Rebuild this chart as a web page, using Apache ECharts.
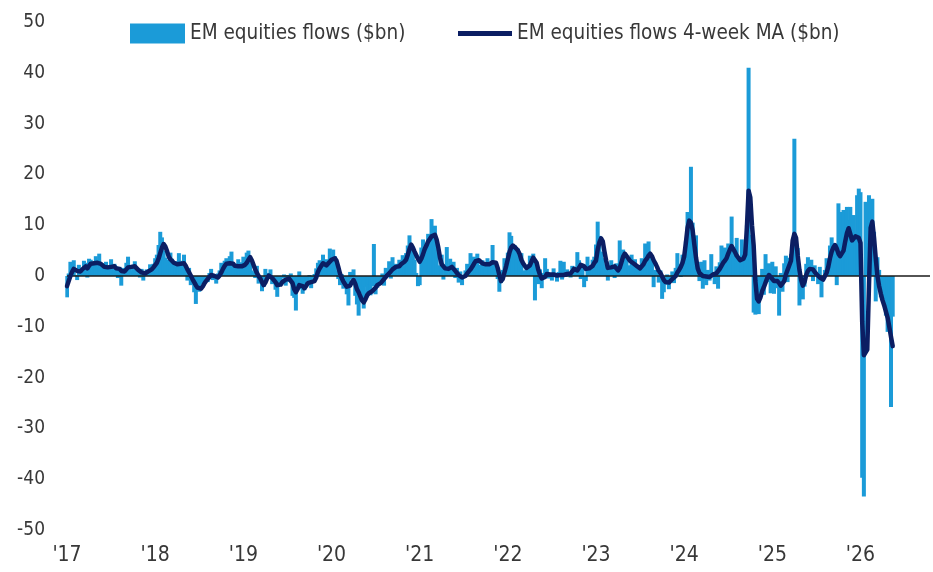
<!DOCTYPE html>
<html>
<head>
<meta charset="utf-8">
<title>EM equities flows</title>
<script src="https://cdn.jsdelivr.net/npm/echarts@6/dist/echarts.min.js"></script>
<style>
html, body { margin: 0; padding: 0; background: #fff; }
#chart { width: 933px; height: 572px; }
</style>
</head>
<body>
<div id="chart"></div>
<script>
// weekly EM equity flows ($bn), one array per year, 52 weeks each
var flows2017 = [
    -4.2, 0.5, 2.8, 1.6, 3.1, 0.2, -0.8, 2.2, 1.5, 0.4,
    3.0, 2.6, -0.3, 3.4, 3.2, 2.1, 2.7, 3.9, 1.8, 4.4,
    1.2, 2.5, 0.9, 2.8, 2.1, 1.3, 3.3, 0.6, 2.4, 1.9,
    -0.4, 1.8, -1.9, 1.6, 0.8, 2.6, 3.8, 2.0, 0.9, 2.2,
    2.9, 0.5, 1.1, -0.3, 1.4, -0.9, 0.6, 1.3, 0.2, 2.3,
    1.9, 2.4];
var flows2018 = [
    3.5, 4.2, 6.1, 8.7, 7.6, 5.0, 3.6, 3.2, 2.1, 4.6,
    3.4, 1.8, 2.9, 1.7, 4.5, 3.0, 2.0, 4.2, 0.8, -0.9,
    1.6, -1.8, -0.6, -3.2, -5.5, -2.4, -3.1, -1.3, -1.6, -0.2,
    -0.9, -1.2, 0.6, 1.4, -0.8, 0.3, -1.5, 0.5, 1.1, 2.6,
    1.7, 3.0, 3.5, 0.7, 3.9, 4.8, 1.2, 2.1, 1.8, 3.3,
    1.0, 2.7];
var flows2019 = [
    3.8, 1.2, 4.6, 5.0, 2.7, 1.1, 0.8, -0.4, 2.0, -1.5,
    -0.9, -3.0, -2.1, 1.4, 0.6, -0.2, 1.3, -1.6, -0.5, -2.7,
    -4.1, -1.5, -0.8, -0.4, 0.3, -1.9, 0.2, -1.2, 0.5, -3.9,
    -4.3, -6.8, -1.7, 0.9, -2.6, -3.5, -2.8, -0.6, -1.1, 0.2,
    -2.4, -0.9, 0.4, 1.5, 2.6, 3.1, 1.2, 4.2, 1.9, 3.3,
    1.4, 5.4];
var flows2020 = [
    2.1, 5.2, 3.9, 1.0, -0.6, -1.8, 0.4, -2.5, -1.4, -3.6,
    -5.8, 0.8, -0.7, 1.3, -3.9, -5.6, -7.8, -2.9, -3.5, -6.4,
    -2.1, -4.2, -1.6, -3.8, -2.0, 6.3, -3.6, -2.3, -0.8, -1.1,
    0.5, -1.9, 1.6, 0.7, 2.9, -0.5, 3.7, 1.9, 2.4, 0.3,
    3.2, 2.6, 4.1, 1.9, 4.5, 6.0, 8.0, 6.3, 4.4, 3.2,
    0.6, -2.0];
var flows2021 = [
    -1.8, 5.6, 7.2, 6.3, 5.0, 8.3, 7.1, 11.2, 6.8, 9.9,
    4.6, 2.1, 1.4, 4.2, -0.7, 2.3, 5.7, 0.5, 3.4, 1.1,
    2.8, -0.4, 1.6, -1.3, 0.9, -1.8, 0.2, 1.1, 2.4, 0.7,
    4.5, 1.2, 3.8, 2.6, 4.4, 2.2, 1.9, 3.1, 2.6, 1.4,
    3.5, 2.0, 1.6, 6.1, 2.3, 1.1, -0.6, -3.1, -1.4, 1.2,
    3.5, 2.6];
var flows2022 = [
    4.6, 8.6, 7.9, 5.3, 6.1, 3.2, 5.4, 2.6, 4.5, 1.1,
    0.7, 2.2, 1.6, 4.0, 3.8, 4.4, -4.8, 2.2, -1.6, 1.3,
    -2.4, 0.6, 3.5, 1.4, -0.5, 0.3, -0.9, 1.5, 0.2, -1.1,
    0.8, 3.0, -0.7, 2.8, -0.2, 1.3, 0.6, -0.3, 2.0, 1.8,
    0.9, 4.7, 3.1, -0.6, 2.4, -2.2, -1.0, 3.8, 0.4, 1.6,
    3.2, 3.8];
var flows2023 = [
    6.2, 10.7, 7.9, 4.8, 3.5, 1.4, 2.3, -0.9, 1.6, 3.1,
    1.8, -0.4, 2.5, 0.8, 7.0, 2.6, 5.2, 4.0, 3.4, 2.1,
    1.2, 4.2, 1.6, 3.3, 0.9, 2.0, 0.4, 3.5, 2.1, 6.4,
    2.8, 6.8, 2.6, 4.0, -2.2, 1.2, 0.6, -1.3, 1.1, -4.5,
    -3.2, -1.7, 0.3, -2.6, -0.8, 0.9, -1.4, 1.6, 4.5, 2.3,
    -0.2, 4.2];
var flows2024 = [
    4.1, 6.8, 12.6, 9.2, 21.5, 10.5, 5.2, 8.0, 1.3, -1.0,
    2.8, -2.5, 3.1, -1.8, 1.2, -0.9, 4.3, 0.5, -1.6, 1.9,
    -2.5, 2.7, 6.0, 4.2, 5.6, 3.8, 6.4, 3.2, 11.7, 5.3,
    2.4, 7.5, 3.6, 0.8, 7.2, 3.1, 4.6, 10.0, 41.0, 8.1,
    3.5, -7.2, -7.6, -5.1, -7.5, -3.0, 1.4, -3.7, 4.3, -1.2,
    2.5, -3.4];
var flows2025 = [
    2.8, -3.5, 1.9, -2.4, -7.8, 0.6, -3.1, 2.5, 4.0, -1.2,
    3.6, 4.3, 5.1, 27.0, 4.8, 5.5, -5.8, -3.9, -4.6, -2.1,
    2.4, 3.7, 1.2, 3.2, -1.0, 2.1, 0.5, -1.6, 1.8, -4.2,
    -0.8, 1.2, 3.5, 2.6, 6.0, 7.6, 6.5, 5.3, -1.8, 14.3,
    9.2, 12.6, 13.0, 8.7, 13.6, 11.0, 13.6, 10.2, 12.0, 8.5,
    15.9, 17.2];
var flows2026 = [
    16.5, -39.7, -43.4, 14.6, 9.5, 15.9, 13.0, 15.2, 8.7, -5.0,
    3.7, 1.2, -4.2, -3.0, -5.5, -7.8, -11.0, -10.5, -25.8, -8.0];

// 4-week moving average ($bn)
var ma2017 = [
    -2.0, -1.0, 0.0, 0.8, 1.4, 1.5, 1.0, 0.8, 0.9, 1.3,
    1.6, 1.9, 1.5, 2.0, 2.4, 2.6, 2.5, 2.7, 2.6, 2.3,
    2.4, 2.1, 1.8, 1.9, 1.7, 2.0, 1.8, 1.6, 1.9, 1.5,
    1.3, 1.4, 1.0, 0.8, 0.9, 1.3, 1.7, 1.9, 1.8, 1.7,
    1.9, 1.6, 1.2, 0.9, 0.7, 0.4, 0.5, 0.6, 0.9, 1.1,
    1.3, 1.7];
var ma2018 = [
    1.9, 2.6, 3.4, 4.5, 5.6, 6.3, 5.8, 4.9, 3.8, 3.3,
    3.0, 2.6, 2.5, 2.3, 2.2, 2.4, 2.7, 2.5, 2.0, 1.3,
    0.7, 0.1, -0.6, -1.2, -1.8, -2.3, -2.6, -2.5, -2.1, -1.5,
    -1.0, -0.6, -0.2, 0.2, 0.3, 0.0, -0.2, -0.3, 0.1, 0.7,
    1.4, 2.0, 2.4, 2.2, 2.5, 2.8, 2.4, 2.0, 2.2, 1.9,
    1.8, 1.9];
var ma2019 = [
    1.9, 2.2, 2.6, 3.2, 3.7, 3.1, 2.2, 1.3, 0.6, 0.0,
    -0.5, -1.2, -1.8, -1.3, -0.5, 0.1, 0.0, -0.4, -0.6, -1.2,
    -1.8, -2.1, -1.7, -1.2, -0.9, -0.7, -0.6, -0.5, -0.6, -1.4,
    -2.6, -3.2, -2.6, -1.8, -1.6, -2.0, -2.4, -2.0, -1.4, -1.2,
    -1.2, -1.1, -1.0, -0.3, 0.8, 1.5, 2.0, 2.5, 2.3, 2.1,
    2.3, 2.8];
var ma2020 = [
    3.2, 3.5, 3.5, 3.0, 1.8, 0.5, -0.4, -1.1, -1.6, -2.1,
    -2.4, -1.9, -1.2, -0.8, -1.5, -2.6, -3.2, -4.0, -4.8, -5.2,
    -4.6, -3.8, -3.4, -3.2, -3.0, -2.8, -2.3, -1.8, -1.7, -1.4,
    -1.0, -0.6, -0.2, 0.2, 0.4, 0.9, 1.3, 1.6, 1.8, 1.7,
    1.9, 2.3, 2.6, 2.8, 3.2, 4.2, 5.3, 6.2, 5.6, 4.8,
    4.1, 3.4];
var ma2021 = [
    2.8, 3.4, 4.3, 5.3, 6.0, 6.8, 7.3, 7.8, 8.0, 8.1,
    7.2, 5.6, 3.6, 2.3, 1.9, 1.5, 1.2, 1.4, 1.7, 1.8,
    1.5, 1.0, 0.6, 0.2, -0.1, -0.3, -0.3, 0.0, 0.5, 0.9,
    1.3, 1.8, 2.4, 2.9, 3.2, 3.1, 2.8, 2.5, 2.4, 2.3,
    2.1, 2.3, 2.6, 2.7, 2.9, 2.6, 1.6, 0.2, -1.0, -0.6,
    0.7, 1.9];
var ma2022 = [
    3.3, 4.7, 5.6, 6.0, 5.8, 5.4, 5.0, 4.3, 3.2, 2.5,
    2.0, 1.6, 1.5, 2.1, 2.9, 3.6, 3.7, 2.6, 1.2, 0.2,
    -0.5, -0.8, -0.2, 0.4, 0.5, 0.3, 0.2, 0.3, 0.2, 0.1,
    0.2, 0.2, 0.3, 0.2, 0.2, 0.4, 0.6, 0.5, 0.9, 1.4,
    1.4, 1.1, 1.6, 2.2, 2.4, 1.9, 1.4, 1.6, 1.5, 1.6,
    2.0, 2.6];
var ma2023 = [
    3.0, 5.2, 6.6, 7.4, 6.8, 4.8, 3.0, 1.6, 1.4, 1.7,
    1.7, 1.9, 1.6, 1.1, 1.6, 2.7, 3.8, 4.4, 4.2, 3.5,
    3.0, 2.8, 2.5, 2.2, 2.0, 1.8, 1.5, 1.6, 2.3, 3.0,
    3.4, 4.0, 4.4, 3.9, 3.1, 2.5, 1.8, 1.0, 0.6, -0.1,
    -0.8, -1.2, -1.5, -1.3, -1.0, -0.6, -0.5, 0.0, 0.7, 1.2,
    1.8, 2.6];
var ma2024 = [
    3.8, 6.5, 9.5, 10.9, 10.5, 9.0, 6.2, 3.6, 1.5, 0.6,
    0.3, 0.0, -0.2, -0.1, 0.0, -0.2, 0.1, 0.3, 0.2, 0.5,
    0.8, 1.4, 2.0, 2.6, 3.0, 3.5, 4.4, 5.2, 5.9, 5.6,
    4.7, 4.0, 3.7, 3.1, 3.0, 3.4, 4.2, 9.5, 16.8, 15.5,
    10.0, 6.0, -1.0, -4.5, -5.0, -4.2, -3.0, -2.2, -1.3, -0.4,
    0.2, -0.1];
var ma2025 = [
    -0.6, -1.0, -1.2, -1.0, -1.4, -1.9, -2.0, -1.0, 0.3, 1.2,
    1.5, 3.0, 7.0, 8.3, 7.5, 4.0, 1.2, -0.8, -1.9, -1.2,
    0.2, 1.0, 1.4, 1.6, 1.3, 0.8, 0.4, 0.1, -0.3, -0.5,
    -0.7, -0.6, 0.6, 1.8, 3.5, 4.8, 5.6, 6.1, 5.4, 4.4,
    3.9, 3.7, 5.0, 6.8, 8.4, 9.4, 8.3, 7.0, 7.2, 7.8,
    8.1, 7.5];
var ma2026 = [
    6.5, -9.0, -15.6, -15.6, -14.5, -2.0, 9.5, 10.7, 7.5, 3.5,
    0.0, -2.0, -3.5, -4.8, -5.8, -7.0, -8.2, -10.0, -12.0, -13.8];

var yearLabels = ["'17", "'18", "'19", "'20", "'21", "'22", "'23", "'24", "'25", "'26"];
var seriesNames = ['EM equities flows ($bn)', 'EM equities flows 4-week MA ($bn)'];

var flows = [].concat(flows2017, flows2018, flows2019, flows2020, flows2021,
    flows2022, flows2023, flows2024, flows2025, flows2026);
var ma = [].concat(ma2017, ma2018, ma2019, ma2020, ma2021,
    ma2022, ma2023, ma2024, ma2025, ma2026);

// x = week number since start of 2017
var barData = flows.map(function(v, i) { return [i, v]; });
var lineData = ma.map(function(v, i) { return [i, v]; });

var narrow = '"Liberation Sans Narrow", "DejaVu Sans Condensed", sans-serif';
var textColor = '#383838';

var myChart = echarts.init(document.getElementById('chart'));
var option = {
    animation: false,
    grid: { left: 67, right: 0, top: 22, bottom: 42 },
    legend: [{
        data: [seriesNames[0]],
        left: 125,
        top: 18,
        icon: 'rect',
        itemWidth: 55,
        itemHeight: 20,
        textStyle: { fontFamily: narrow, fontSize: 20.5, color: textColor }
    }, {
        data: [seriesNames[1]],
        left: 453,
        top: 18,
        icon: 'rect',
        itemWidth: 54,
        itemHeight: 5,
        textStyle: { fontFamily: narrow, fontSize: 20.5, color: textColor }
    }],
    xAxis: {
        type: 'value',
        min: 0,
        max: 509,
        interval: 52,
        axisLine: { show: false },
        axisTick: { show: false },
        splitLine: { show: false },
        axisLabel: {
            margin: 15,
            fontFamily: narrow,
            fontSize: 21,
            color: textColor,
            formatter: function(v) {
                return v % 52 === 0 ? (yearLabels[v / 52] || '') : '';
            }
        }
    },
    yAxis: {
        type: 'value',
        min: -50,
        max: 50,
        interval: 10,
        axisLine: { show: false },
        axisTick: { show: false },
        splitLine: { show: false },
        axisLabel: { margin: 22, fontFamily: narrow, fontSize: 19, color: textColor }
    },
    series: [{
        name: seriesNames[0],
        type: 'bar',
        data: barData,
        barWidth: 4,
        itemStyle: { color: '#1b9bd8' },
        markLine: { // zero line
            silent: true,
            symbol: 'none',
            label: { show: false },
            lineStyle: { color: '#1a1a1a', width: 1.5, type: 'solid' },
            data: [{ yAxis: 0 }]
        }
    }, {
        name: seriesNames[1],
        type: 'line',
        data: lineData,
        symbol: 'none',
        z: 6,
        itemStyle: { color: '#0b1e63' },
        lineStyle: { color: '#0b1e63', width: 4.5, cap: 'round', join: 'round' }
    }]
};
myChart.setOption(option, true);
</script>
</body>
</html>
